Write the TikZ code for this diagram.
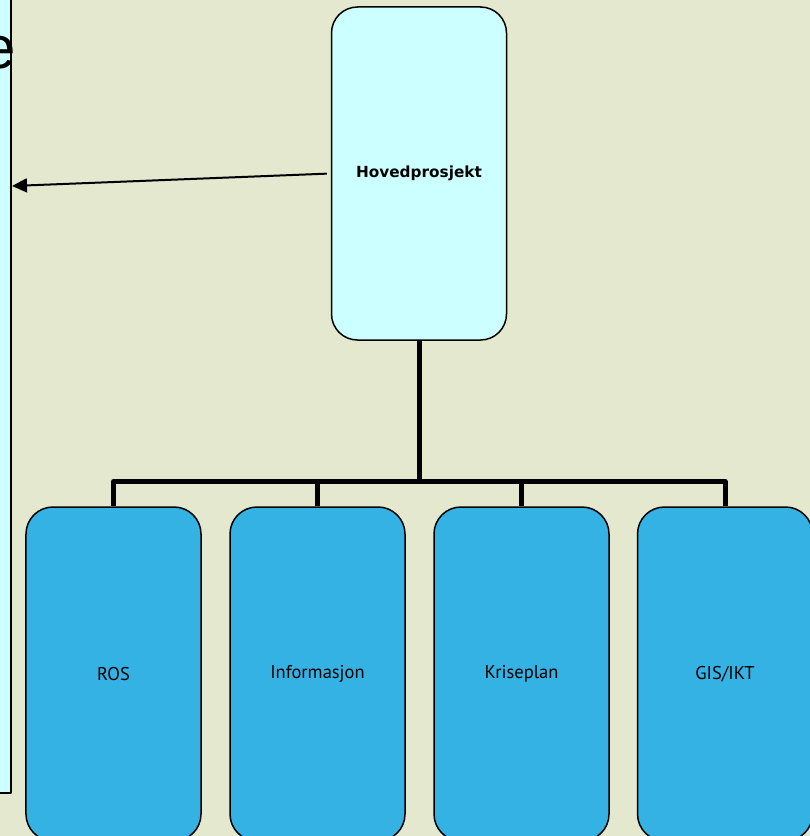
\documentclass[tikz,border=0pt]{standalone}
\usepackage{fontspec}
\setmainfont{PT Sans}
\newfontfamily\hpfont{DejaVu Sans}
\newfontfamily\bigfont{Liberation Sans}
\usetikzlibrary{arrows.meta}
\definecolor{bgcol}{HTML}{E4E8CF}
\definecolor{lightcyan}{HTML}{CCFFFF}
\definecolor{boxblue}{HTML}{35B2E4}

\begin{document}
\begin{tikzpicture}[x=1bp,y=-1bp,line join=round,
    mainbox/.style={draw, line width=1.5bp, rounded corners=26bp, fill=lightcyan,
        minimum width=175bp, minimum height=333bp, inner sep=0pt,
        font=\hpfont\bfseries\fontsize{15.3bp}{18bp}\selectfont},
    subbox/.style={draw, line width=1.5bp, rounded corners=27bp, fill=boxblue,
        minimum width=175bp, minimum height=334bp, inner sep=0pt,
        font=\fontsize{18.5bp}{22bp}\selectfont},
    bus/.style={line width=5bp}]
            \useasboundingbox (0,0) rectangle (810,836);
            \clip (0,0) rectangle (810,836);
            \fill[bgcol] (0,0) rectangle (810,836);
            % left panel (cut off)
            \node[draw, line width=2bp, fill=lightcyan, minimum width=40bp, minimum height=820bp] (panel) at (-9,383) {};
            \node[anchor=base east, inner sep=0pt, font=\bigfont\fontsize{60bp}{70bp}\selectfont] (etext) at (16.5,68.5) {e};
            % main project
            \node[mainbox] (hp) at (419,173.5) {Hovedprosjekt};
            % sub projects
            \node[subbox] (ros) at (113.5,674) {ROS};
            \node[subbox] (info) at (317.5,674) {Informasjon};
            \node[subbox] (krise) at (521.5,674) {Kriseplan};
            \node[subbox] (gis) at (725,674) {GIS/IKT};
            \coordinate (bus) at (419,481.5);
            \coordinate (tip) at (12,186);
            \draw[bus] (hp.south) -- (hp.south |- bus);
            \draw[bus] (ros.north) |- (bus -| gis.north) -- (gis.north);
            \draw[bus] (info.north) -- (info.north |- bus);
            \draw[bus] (krise.north) -- (krise.north |- bus);
            \draw[-{Triangle[length=15bp,width=14bp]}, line width=2bp, shorten <=4bp] (hp.west) -- (tip);
\end{tikzpicture}
\end{document}
